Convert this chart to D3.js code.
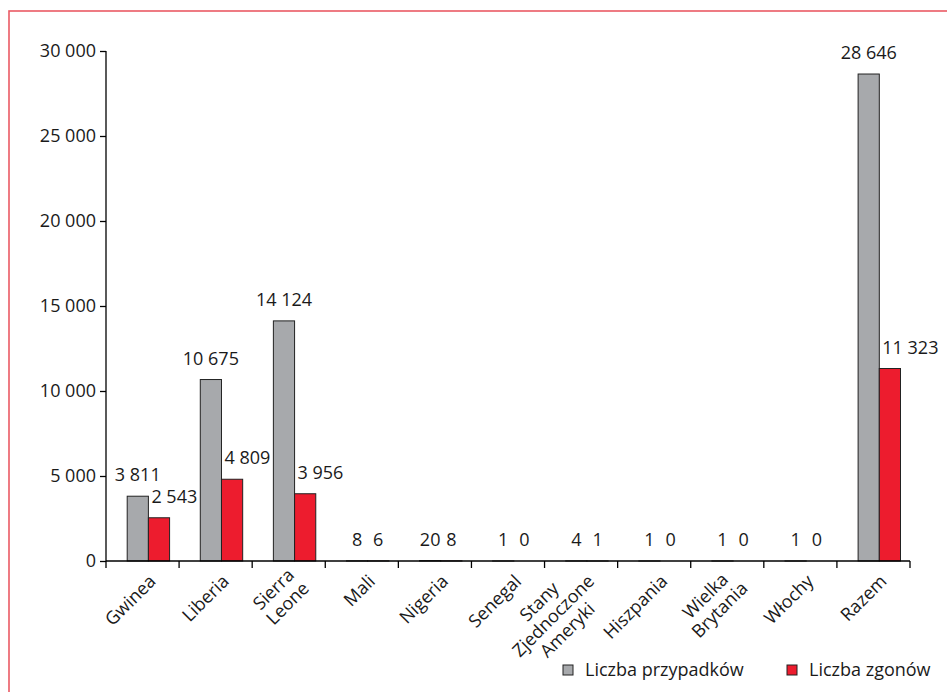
<!DOCTYPE html>
<html>
<head>
<meta charset="utf-8">
<script src="https://cdn.jsdelivr.net/npm/d3@7"></script>
<style>
  body { margin: 0; background: #fff; }
  text { font-family: "Open Sans", "Noto Sans", sans-serif; fill: #1a1a1a; }
</style>
</head>
<body>
<div id="chart"></div>
<script>
// data
const countries = ["Gwinea", "Liberia", "Sierra Leone", "Mali", "Nigeria", "Senegal",
  "Stany Zjednoczone Ameryki", "Hiszpania", "Wielka Brytania", "Włochy", "Razem"];
const countryLines = [["Gwinea"], ["Liberia"], ["Sierra", "Leone"], ["Mali"], ["Nigeria"], ["Senegal"],
  ["Stany", "Zjednoczone", "Ameryki"], ["Hiszpania"], ["Wielka", "Brytania"], ["Włochy"], ["Razem"]];
const cases = [3811, 10675, 14124, 8, 20, 1, 4, 1, 1, 1, 28646];
const deaths = [2543, 4809, 3956, 6, 8, 0, 1, 0, 0, 0, 11323];
const yTicks = [0, 5000, 10000, 15000, 20000, 25000, 30000];
const seriesNames = ["Liczba przypadków", "Liczba zgonów"];

const width = 947, height = 692;
const grey = "#a7a9ac", red = "#ed1c2e";

const svg = d3.select("#chart").append("svg")
  .attr("width", width)
  .attr("height", height);

// pink frame
svg.append("rect")
  .attr("x", 9).attr("y", 11)
  .attr("width", 960).attr("height", 700)
  .attr("fill", "none")
  .attr("stroke", "#ea5a64")
  .attr("stroke-width", 1.6);

const x = d3.scaleBand().domain(countries).range([106, 910]).padding(0);
const y = d3.scaleLinear().domain([0, 30000]).range([561, 51]);
const fmt = d3.formatLocale({ decimal: ",", thousands: "\u00a0", grouping: [3], currency: ["", ""] }).format(",d");

const bw = x.bandwidth() * 0.29;
const off = x.bandwidth() * 0.29;

// y axis
const yAxis = svg.append("g")
  .attr("transform", "translate(106,0)")
  .call(d3.axisLeft(y).tickValues(yTicks).tickFormat(fmt).tickSize(6).tickPadding(4));
yAxis.select(".domain").attr("stroke", "#000").attr("stroke-width", 1.3).attr("d", "M0,51V561");
yAxis.selectAll(".tick line").attr("stroke", "#000").attr("stroke-width", 1.3);
yAxis.selectAll(".tick text").style("font-size", "18px").attr("fill", "#1a1a1a")
  .style("font-family", "'Open Sans', sans-serif");

// bars
const groups = svg.selectAll("g.cat")
  .data(countries)
  .enter().append("g")
  .attr("class", "cat");

groups.filter((d, i) => cases[i] > 0).append("rect")
  .attr("x", d => x(d) + off)
  .attr("y", d => y(cases[countries.indexOf(d)]))
  .attr("width", bw)
  .attr("height", d => y(0) - y(cases[countries.indexOf(d)]))
  .attr("fill", grey)
  .attr("stroke", "#222")
  .attr("stroke-width", 1);

groups.filter((d, i) => deaths[i] > 0).append("rect")
  .attr("x", d => x(d) + off + bw)
  .attr("y", d => y(deaths[countries.indexOf(d)]))
  .attr("width", bw)
  .attr("height", d => y(0) - y(deaths[countries.indexOf(d)]))
  .attr("fill", red)
  .attr("stroke", "#222")
  .attr("stroke-width", 1);

// value labels
groups.append("text")
  .attr("x", d => x(d) + off + bw / 2)
  .attr("y", (d, i) => y(cases[i]) - 15)
  .attr("text-anchor", "middle")
  .style("font-size", "18px")
  .text((d, i) => fmt(cases[i]));

groups.append("text")
  .attr("x", (d, i) => deaths[i] >= 1000 ? x(d) + off + bw + 3 : x(d) + off + bw * 1.5)
  .attr("y", (d, i) => y(deaths[i]) - 15)
  .attr("text-anchor", (d, i) => deaths[i] >= 1000 ? "start" : "middle")
  .style("font-size", "18px")
  .text((d, i) => fmt(deaths[i]));

// x axis
svg.append("line")
  .attr("x1", 106).attr("x2", 910)
  .attr("y1", y(0)).attr("y2", y(0))
  .attr("stroke", "#000").attr("stroke-width", 1.3);

const bounds = countries.map(d => x(d)).concat([x.range()[1]]);
svg.selectAll("line.xtick")
  .data(bounds)
  .enter().append("line")
  .attr("class", "xtick")
  .attr("x1", d => d).attr("x2", d => d)
  .attr("y1", y(0)).attr("y2", y(0) + 7)
  .attr("stroke", "#000").attr("stroke-width", 1.3);

// rotated category labels: each line placed by hand along the 45° direction
const lh = 20;
const c45 = Math.SQRT1_2;
const labels = svg.selectAll("g.xlabel")
  .data(countries)
  .enter().append("g")
  .attr("class", "xlabel");

labels.each(function(d, i) {
  const lines = countryLines[i];
  const cx = x(d) + x.bandwidth() / 2, cy = y(0);
  const g = d3.select(this);
  const texts = lines.map(ln => g.append("text")
    .attr("text-anchor", "middle")
    .attr("dy", "0.35em")
    .style("font-size", "18px")
    .text(ln));
  const w = d3.max(texts, t => t.node().getComputedTextLength());
  texts.forEach((t, k) => {
    const u = -5 - w / 2;
    const v = 19 + (k - (lines.length - 1) / 2) * lh;
    // rotated frame: u along text, v perpendicular (down)
    const px = cx + u * c45 + v * c45;
    const py = cy - u * c45 + v * c45;
    t.attr("transform", `matrix(${c45},${-c45},${c45},${c45},${px},${py})`);
  });
});

// legend
const legend = svg.selectAll("g.legend")
  .data(seriesNames)
  .enter().append("g")
  .attr("class", "legend")
  .attr("transform", (d, i) => `translate(${i === 0 ? 563 : 787},665)`);

legend.append("rect")
  .attr("width", 10).attr("height", 10)
  .attr("fill", (d, i) => i === 0 ? grey : red)
  .attr("stroke", "#222").attr("stroke-width", 1);

legend.append("text")
  .attr("x", 22).attr("y", 5)
  .attr("dy", "0.35em")
  .style("font-size", "18px")
  .text(d => d);
</script>
</body>
</html>
